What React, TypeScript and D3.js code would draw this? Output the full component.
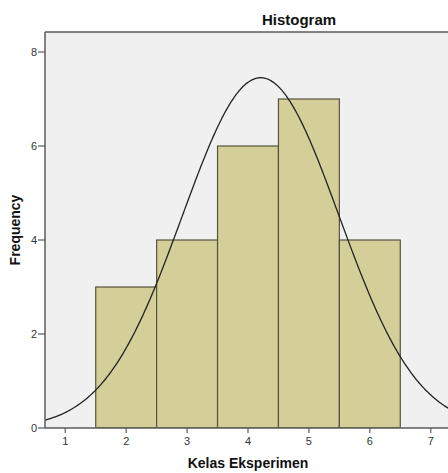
import React, { useEffect } from "react";
import * as d3 from "d3";

// histogram bins (Kelas Eksperimen), width 1
const binCenters = [2, 3, 4, 5, 6];
const frequencies = [3, 4, 6, 7, 4];
const xTicks = [1, 2, 3, 4, 5, 6, 7];
const yTicks = [0, 2, 4, 6, 8];

const W = 448;
const H = 473;

export default function App() {
  useEffect(() => {
    document.body.style.margin = "0";
  }, []);

  const left = 45, top = 32, bottom = 428, right = 451;
  const x = d3.scaleLinear().domain([0.667, 7.333]).range([left, right]);
  const y = d3.scaleLinear().domain([0, 8]).range([bottom, 52]);

  // normal curve fitted to the binned data (like SPSS)
  const n = d3.sum(frequencies);
  const mean = d3.sum(binCenters, (c, i) => c * frequencies[i]) / n;
  const ss = d3.sum(binCenters, (c, i) => frequencies[i] * (c - mean) ** 2);
  const sd = Math.sqrt(ss / (n - 1));
  const curveX = d3.range(0.667, 7.34, 0.02);
  const dens = (v: number) =>
    (n / (sd * Math.sqrt(2 * Math.PI))) * Math.exp(-0.5 * ((v - mean) / sd) ** 2);
  const line = d3
    .line<number>()
    .x((v) => x(v))
    .y((v) => y(dens(v)))
    .curve(d3.curveBasis);

  const font = "Arial, 'Liberation Sans', sans-serif";
  const axisCol = "#5b5b5b";

  return (
    <svg width={W} height={H} style={{ display: "block" }} fontFamily={font}>
      <rect x={0} y={0} width={W} height={H} fill="#ffffff" />
      <defs>
        <clipPath id="plot">
          <rect x={left} y={top} width={right - left} height={bottom - top} />
        </clipPath>
      </defs>
      <rect x={left} y={top} width={right - left} height={bottom - top} fill="#f0f0f0" />
      <g clipPath="url(#plot)">
        {binCenters.map((c, i) => (
          <rect
            key={c}
            x={x(c - 0.5)}
            y={y(frequencies[i])}
            width={x(c + 0.5) - x(c - 0.5)}
            height={y(0) - y(frequencies[i])}
            fill="#d4cf99"
            stroke="#55533f"
            strokeWidth={1.2}
          />
        ))}
        <path d={line(curveX) || ""} fill="none" stroke="#222" strokeWidth={1.3} />
      </g>
      {/* frame */}
      <line x1={left} x2={right} y1={top} y2={top} stroke={axisCol} strokeWidth={1.5} />
      <line x1={left} x2={left} y1={top} y2={bottom} stroke={axisCol} strokeWidth={1.5} />
      <line x1={left} x2={right} y1={bottom} y2={bottom} stroke={axisCol} strokeWidth={1.5} />
      {/* y axis */}
      {yTicks.map((t) => (
        <g key={t}>
          <line x1={left - 7} x2={left} y1={y(t)} y2={y(t)} stroke={axisCol} strokeWidth={1.2} />
          <text x={left - 8} y={y(t) + 4} textAnchor="end" fontSize={11} fill="#333">
            {t}
          </text>
        </g>
      ))}
      {/* x axis */}
      {xTicks.map((t) => (
        <g key={t}>
          <line x1={x(t)} x2={x(t)} y1={bottom} y2={bottom + 5} stroke={axisCol} strokeWidth={1.2} />
          <text x={x(t)} y={bottom + 17} textAnchor="middle" fontSize={11} fill="#333">
            {t}
          </text>
        </g>
      ))}
      <text x={299} y={25} textAnchor="middle" fontSize={15} fontWeight="bold" fill="#111">
        Histogram
      </text>
      <text
        transform={`translate(20, 230) rotate(-90)`}
        textAnchor="middle"
        fontSize={14}
        fontWeight="bold"
        fill="#111"
      >
        Frequency
      </text>
      <text x={248} y={468} textAnchor="middle" fontSize={14} fontWeight="bold" fill="#111">
        Kelas Eksperimen
      </text>
    </svg>
  );
}
